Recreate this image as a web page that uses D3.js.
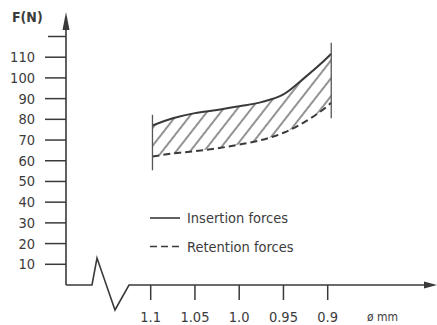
<!DOCTYPE html>
<html><head><meta charset="utf-8">
<script src="https://cdn.jsdelivr.net/npm/d3@7"></script>
<style>
html,body{margin:0;padding:0;background:#fff;}
svg text{font-family:"DejaVu Sans Condensed","Liberation Sans Narrow",Arial,sans-serif;fill:#3c3c3c;}
</style></head>
<body>
<svg id="chart" width="437" height="325"></svg>
<script>
// ---- data ----
const diameters = [1.098, 1.075, 1.05, 1.025, 1.0, 0.975, 0.95, 0.925, 0.9, 0.896];
const insertion = [77, 80.5, 83, 84.5, 86.3, 88.3, 92, 100.5, 110, 111.7];
const retention = [62, 63.5, 64.6, 66, 67.8, 70, 73.5, 79, 86.5, 88];
const xTicks = [1.1, 1.05, 1.0, 0.95, 0.9];
const xTickLabels = ["1.1", "1.05", "1.0", "0.95", "0.9"];
const yTicks = [10, 20, 30, 40, 50, 60, 70, 80, 90, 100, 110, 120];
const yTickLabels = ["10", "20", "30", "40", "50", "60", "70", "80", "90", "100", "110", ""];
const bandLeft = [55.4, 82.2];   // vertical bound at start
const bandRight = [80.5, 117];   // vertical bound at end
const legendItems = ["Insertion forces", "Retention forces"];

const svg = d3.select("#chart");
const ink = "#3a3a3a";
const x = d3.scaleLinear().domain([1.1, 0.9]).range([150.7, 327.7]);
const y = d3.scaleLinear().domain([0, 120]).range([285, 36.5]);

// hatch pattern
const defs = svg.append("defs");
const pat = defs.append("pattern").attr("id", "hatch")
  .attr("patternUnits", "userSpaceOnUse").attr("width", 11).attr("height", 10)
  .attr("patternTransform", "rotate(38)");
pat.append("line").attr("x1", 1).attr("y1", 0).attr("x2", 1).attr("y2", 10)
  .attr("stroke", "#4a4a4a").attr("stroke-width", 1.2);

const pts = diameters.map((d, i) => ({d, ins: insertion[i], ret: retention[i]}));
const area = d3.area().x(p => x(p.d)).y0(p => y(p.ret)).y1(p => y(p.ins)).curve(d3.curveMonotoneX);
svg.append("path").datum(pts).attr("d", area).attr("fill", "url(#hatch)");

const lineIns = d3.line().x(p => x(p.d)).y(p => y(p.ins)).curve(d3.curveMonotoneX);
const lineRet = d3.line().x(p => x(p.d)).y(p => y(p.ret)).curve(d3.curveMonotoneX);
svg.append("path").datum(pts).attr("d", lineIns).attr("fill", "none")
  .attr("stroke", ink).attr("stroke-width", 2);
svg.append("path").datum(pts).attr("d", lineRet).attr("fill", "none")
  .attr("stroke", ink).attr("stroke-width", 2).attr("stroke-dasharray", "7,4");

// vertical bounds
svg.append("line").attr("x1", x(diameters[0])).attr("x2", x(diameters[0]))
  .attr("y1", y(bandLeft[0])).attr("y2", y(bandLeft[1])).attr("stroke", "#555").attr("stroke-width", 1.3);
const xe = x(diameters[diameters.length - 1]);
svg.append("line").attr("x1", xe).attr("x2", xe)
  .attr("y1", y(bandRight[0])).attr("y2", y(bandRight[1])).attr("stroke", "#555").attr("stroke-width", 1.3);

// y axis
const y0 = y(0);
svg.append("line").attr("x1", 66).attr("x2", 66).attr("y1", y0).attr("y2", 22)
  .attr("stroke", ink).attr("stroke-width", 1.6);
svg.append("path").attr("d", "M66,12 L62.5,30 L69.5,30 Z").attr("fill", ink);
const yt = svg.append("g");
yTicks.forEach((v, i) => {
  yt.append("line").attr("x1", i === yTicks.length - 1 ? 48 : 45).attr("x2", 66)
    .attr("y1", y(v)).attr("y2", y(v)).attr("stroke", ink).attr("stroke-width", 1.5);
  yt.append("text").attr("x", 35).attr("y", y(v) + 5).attr("text-anchor", "end")
    .attr("font-size", 14.5).text(yTickLabels[i]);
});
svg.append("text").attr("x", 12).attr("y", 22).attr("font-size", 14)
  .attr("font-weight", "bold").text("F(N)");

// x axis with break
svg.append("path")
  .attr("d", `M66,${y0} L92,${y0} L97,258 L115,310 L129,${y0} L426,${y0}`)
  .attr("fill", "none").attr("stroke", ink).attr("stroke-width", 1.6).attr("stroke-linejoin", "miter");
svg.append("path").attr("d", `M437,${y0} L424,${y0 - 3.5} L424,${y0 + 3.5} Z`).attr("fill", ink);
xTicks.forEach((v, i) => {
  svg.append("line").attr("x1", x(v)).attr("x2", x(v)).attr("y1", y0).attr("y2", 300)
    .attr("stroke", ink).attr("stroke-width", 1.5);
  svg.append("text").attr("x", x(v)).attr("y", 322).attr("text-anchor", "middle")
    .attr("font-size", 14.5).text(xTickLabels[i]);
});
svg.append("text").attr("x", 367).attr("y", 321).attr("font-size", 12).text("ø mm");

// legend
const lg = svg.append("g");
legendItems.forEach((t, i) => {
  const ly = 218 + i * 28.5;
  lg.append("line").attr("x1", 150).attr("x2", 180).attr("y1", ly).attr("y2", ly)
    .attr("stroke", ink).attr("stroke-width", 1.6)
    .attr("stroke-dasharray", i === 1 ? "7,4" : null);
  lg.append("text").attr("x", 187).attr("y", ly + 5).attr("font-size", 14.5).text(t);
});
</script>
</body></html>
